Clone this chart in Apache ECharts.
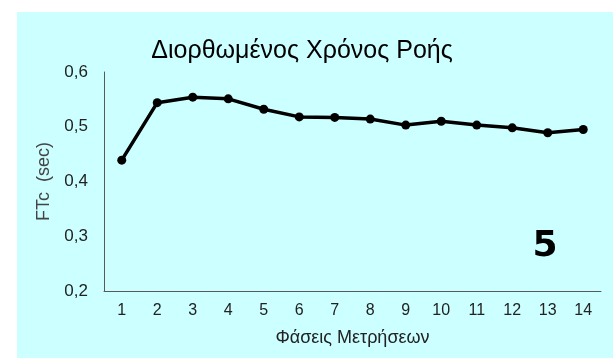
<!DOCTYPE html>
<html><head><meta charset="utf-8">
<script src="https://cdn.jsdelivr.net/npm/echarts@6/dist/echarts.min.js"></script>
<style>html,body{margin:0;padding:0;background:#fff}#c{width:613px;height:358px}</style>
</head><body><div id="c"></div>
<script>
const titleText = 'Διορθωμένος Χρόνος Ροής';
const categories = ['1','2','3','4','5','6','7','8','9','10','11','12','13','14'];
const ftcValues = [0.439,0.544,0.554,0.551,0.532,0.518,0.517,0.514,0.503,0.510,0.503,0.498,0.489,0.495];
const yAxisName = 'FTc  (sec)';
const xAxisName = 'Φάσεις Μετρήσεων';
const panelLabel = '5';

const chart = echarts.init(document.getElementById('c'));
const font = '"Liberation Sans", Arial, sans-serif';
chart.setOption({
  animation:false,
  backgroundColor:'#ffffff',
  graphic:[
    {type:'rect',z:-10,shape:{x:17,y:12,width:596,height:346},style:{fill:'#CCFFFF'}},
    {type:'text',x:302,y:51,style:{text:titleText,font:'25px '+font,fill:'#000',align:'center',verticalAlign:'middle'}},
    {type:'text',x:545,y:247,style:{text:panelLabel,font:'bold 36px "DejaVu Sans", sans-serif',fill:'#000',align:'center',verticalAlign:'middle'}}
  ],
  grid:{left:104,right:12,top:72,bottom:67},
  xAxis:{type:'category',data:categories,boundaryGap:true,
    axisLine:{lineStyle:{color:'#595959',width:1}},axisTick:{show:false},
    axisLabel:{color:'#222',fontSize:16,fontFamily:font,margin:12},
    name:xAxisName,nameLocation:'middle',nameGap:38,
    nameTextStyle:{color:'#222',fontSize:18,fontFamily:font}},
  yAxis:{type:'value',min:0.2,max:0.6,interval:0.1,
    axisLine:{show:true,lineStyle:{color:'#595959',width:1}},axisTick:{show:false},
    splitLine:{show:false},
    axisLabel:{color:'#222',fontSize:17,fontFamily:font,margin:16,
      formatter:v=>v.toFixed(1).replace('.',',')},
    name:yAxisName,nameLocation:'middle',nameGap:51,nameRotate:90,
    nameTextStyle:{color:'#444',fontSize:18,fontFamily:font}},
  series:[{type:'line',data:ftcValues,symbol:'circle',symbolSize:9,
    lineStyle:{color:'#000',width:3.5},itemStyle:{color:'#000'}}]
});
</script></body></html>
